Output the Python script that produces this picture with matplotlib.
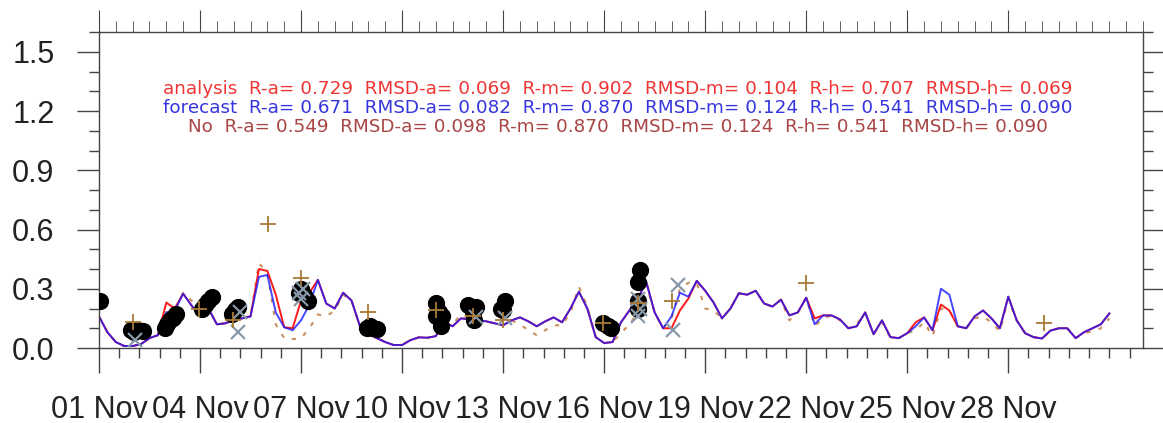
import matplotlib
matplotlib.use("Agg")
import matplotlib.pyplot as plt
from matplotlib.ticker import MultipleLocator, FixedLocator
import numpy as np

plt.rcParams["font.family"] = ["Liberation Sans", "DejaVu Sans"]

# 6-hourly time axis, days since 01 Nov 00Z
days = np.arange(0, 30.01, 0.25)

# forecast (blue)
forecast = [
    0.16, 0.08, 0.03, 0.01,
    0.01, 0.02, 0.05, 0.065,
    0.18, 0.19, 0.275, 0.215,
    0.16, 0.20, 0.12, 0.125,
    0.14, 0.15, 0.16, 0.36,
    0.37, 0.18, 0.105, 0.09,
    0.14, 0.22, 0.345, 0.225,
    0.20, 0.28, 0.24, 0.11,
    0.07, 0.05, 0.03, 0.015,
    0.015, 0.04, 0.054, 0.052,
    0.06, 0.13, 0.11, 0.15,
    0.145, 0.14, 0.135, 0.125,
    0.115, 0.14, 0.155, 0.135,
    0.11, 0.135, 0.155, 0.13,
    0.20, 0.285, 0.20, 0.055,
    0.025, 0.03, 0.13, 0.19,
    0.25, 0.335, 0.18, 0.10,
    0.16, 0.28, 0.26, 0.34,
    0.29, 0.23, 0.15, 0.20,
    0.277, 0.27, 0.29, 0.225,
    0.21, 0.245, 0.165, 0.18,
    0.255, 0.12, 0.165, 0.165,
    0.145, 0.10, 0.11, 0.18,
    0.07, 0.14, 0.055, 0.05,
    0.075, 0.11, 0.155, 0.09,
    0.30, 0.27, 0.11, 0.10,
    0.16, 0.19, 0.15, 0.10,
    0.26, 0.14, 0.075, 0.055,
    0.048, 0.088, 0.10, 0.10,
    0.05, 0.08, 0.10, 0.12,
    0.175,
]

# analysis (red)
analysis = [
    0.16, 0.08, 0.03, 0.01,
    0.01, 0.02, 0.05, 0.065,
    0.23, 0.20, 0.275, 0.215,
    0.16, 0.20, 0.12, 0.125,
    0.14, 0.15, 0.16, 0.40,
    0.39, 0.27, 0.105, 0.10,
    0.24, 0.28, 0.345, 0.225,
    0.20, 0.28, 0.24, 0.11,
    0.07, 0.05, 0.03, 0.015,
    0.015, 0.04, 0.054, 0.052,
    0.06, 0.13, 0.11, 0.15,
    0.145, 0.14, 0.135, 0.125,
    0.115, 0.14, 0.155, 0.135,
    0.11, 0.135, 0.155, 0.13,
    0.20, 0.285, 0.20, 0.055,
    0.025, 0.03, 0.13, 0.19,
    0.25, 0.335, 0.18, 0.10,
    0.10, 0.19, 0.25, 0.34,
    0.29, 0.23, 0.15, 0.20,
    0.277, 0.27, 0.29, 0.225,
    0.21, 0.245, 0.165, 0.18,
    0.255, 0.15, 0.165, 0.165,
    0.145, 0.10, 0.11, 0.18,
    0.07, 0.14, 0.055, 0.05,
    0.075, 0.13, 0.155, 0.09,
    0.22, 0.19, 0.11, 0.10,
    0.16, 0.19, 0.15, 0.10,
    0.26, 0.14, 0.075, 0.055,
    0.048, 0.088, 0.10, 0.10,
    0.05, 0.08, 0.10, 0.12,
    0.175,
]

# no assimilation (dashed)
no_da = [
    0.16, 0.08, 0.03, 0.01,
    0.01, 0.02, 0.05, 0.065,
    0.18, 0.19, 0.28, 0.24,
    0.17, 0.20, 0.12, 0.125,
    0.14, 0.15, 0.16, 0.43,
    0.38, 0.12, 0.05, 0.045,
    0.05, 0.10, 0.17, 0.16,
    0.19, 0.27, 0.24, 0.11,
    0.07, 0.05, 0.03, 0.015,
    0.015, 0.04, 0.054, 0.052,
    0.06, 0.13, 0.12, 0.17,
    0.145, 0.14, 0.135, 0.125,
    0.115, 0.14, 0.12, 0.09,
    0.065, 0.09, 0.115, 0.115,
    0.18, 0.31, 0.21, 0.055,
    0.025, 0.03, 0.075, 0.12,
    0.18, 0.32, 0.18, 0.10,
    0.15, 0.30, 0.33, 0.33,
    0.20, 0.19, 0.15, 0.20,
    0.277, 0.27, 0.29, 0.225,
    0.21, 0.245, 0.14, 0.18,
    0.255, 0.11, 0.15, 0.165,
    0.14, 0.10, 0.12, 0.18,
    0.07, 0.13, 0.055, 0.05,
    0.075, 0.09, 0.13, 0.06,
    0.20, 0.19, 0.11, 0.10,
    0.15, 0.16, 0.13, 0.085,
    0.25, 0.14, 0.075, 0.055,
    0.048, 0.085, 0.10, 0.10,
    0.05, 0.075, 0.085, 0.10,
    0.15,
]

# observations (black dots)
obs_days = [0.03, 0.95, 1.05, 1.15, 1.3, 1.95, 2.02, 2.1, 2.2, 2.3,
            3.05, 3.15, 3.25, 3.35, 3.95, 4.05, 4.12,
            5.95, 6.0, 6.1, 6.2, 7.95, 8.05, 8.15, 8.25,
            10.0, 10.0, 10.1, 10.2, 10.17, 10.96, 11.2, 11.1, 11.15,
            11.95, 12.05, 12.0, 14.97, 15.1, 15.2,
            16.0, 16.0, 16.0, 16.05]
obs_vals = [0.24, 0.09, 0.08, 0.09, 0.085, 0.10, 0.12, 0.14, 0.15, 0.17,
            0.20, 0.22, 0.24, 0.26, 0.17, 0.19, 0.21,
            0.28, 0.30, 0.27, 0.24, 0.10, 0.11, 0.10, 0.095,
            0.23, 0.16, 0.18, 0.16, 0.11, 0.217, 0.21, 0.18, 0.14,
            0.20, 0.24, 0.19, 0.125, 0.11, 0.10,
            0.20, 0.24, 0.335, 0.394]

# second obs set (+)
plus_days = [1.02, 2.97, 3.98, 5.03, 6.0, 8.0, 10.0, 11.1, 12.0, 14.97,
             16.0, 17.0, 21.0, 28.05]
plus_vals = [0.133, 0.20, 0.14, 0.63, 0.353, 0.183, 0.19, 0.16, 0.14, 0.125,
             0.23, 0.24, 0.33, 0.125]

# third obs set (x)
cross_days = [1.08, 4.13, 4.2, 5.95, 6.05, 6.0, 11.2, 12.05,
              16.0, 16.05, 16.0, 17.03, 17.18]
cross_vals = [0.04, 0.083, 0.18, 0.28, 0.30, 0.25, 0.158, 0.15,
              0.25, 0.20, 0.16, 0.09, 0.32]

tick_days = [0, 3, 6, 9, 12, 15, 18, 21, 24, 27]
tick_labels = ["01 Nov", "04 Nov", "07 Nov", "10 Nov", "13 Nov",
               "16 Nov", "19 Nov", "22 Nov", "25 Nov", "28 Nov"]

stat_names = ["analysis", "forecast", "No"]
r_a = ["0.729", "0.671", "0.549"]
rmsd_a = ["0.069", "0.082", "0.098"]
r_m = ["0.902", "0.870", "0.870"]
rmsd_m = ["0.104", "0.124", "0.124"]
r_h = ["0.707", "0.541", "0.541"]
rmsd_h = ["0.069", "0.090", "0.090"]
stat_colors = ["#f03535", "#3535e0", "#a84545"]

fig = plt.figure(figsize=(11.63, 4.23), dpi=100)
ax = fig.add_axes([0.0851, 0.1773, 0.8977, 0.747])

ax.plot(days, no_da, color="#c8905f", lw=1.5, dashes=(2, 4))
ax.plot(days, analysis, color="#ff1a1a", lw=1.4)
ax.plot(days, forecast, color="#1a1aff", lw=1.4, alpha=0.8)
ax.scatter(obs_days, obs_vals, s=130, c="black", zorder=5)
ax.plot(cross_days, cross_vals, ls="none", marker="x", ms=10, mew=1.6,
        color="#8898a8", zorder=6)
ax.plot(plus_days, plus_vals, ls="none", marker="+", ms=11, mew=1.3,
        color="#a87a35", zorder=7)

ax.set_xlim(0, 31)
ax.set_ylim(0, 1.6)
ax.xaxis.set_major_locator(FixedLocator(tick_days))
ax.set_xticklabels(tick_labels)
ax.xaxis.set_minor_locator(MultipleLocator(0.6))
ax.yaxis.set_minor_locator(MultipleLocator(0.1))
ax.set_yticks([0, 0.3, 0.6, 0.9, 1.2, 1.5])
ax.set_yticklabels(["0.0", "0.3", "0.6", "0.9", "1.2", "1.5"])

ax.tick_params(which="both", direction="out", right=True, color="#444444",
               width=1.0, labelsize=22, labelcolor="#222222")
ax.tick_params(which="major", length=16, pad=16)
ax.tick_params(which="minor", length=7)
ax.tick_params(axis="x", which="major", length=18)

top = ax.secondary_xaxis("top")
top.xaxis.set_major_locator(FixedLocator(tick_days))
top.xaxis.set_minor_locator(MultipleLocator(0.5))
top.tick_params(which="both", direction="out", color="#444444", labeltop=False)
top.tick_params(which="major", length=16)
top.tick_params(which="minor", length=8)
top.spines["top"].set_visible(False)

for s in ax.spines.values():
    s.set_color("#444444")
    s.set_linewidth(1.0)

# stats block, wide font to mimic the stretched original
for i, name in enumerate(stat_names):
    txt = (f"{name}  R-a= {r_a[i]}  RMSD-a= {rmsd_a[i]}  R-m= {r_m[i]}  "
           f"RMSD-m= {rmsd_m[i]}  R-h= {r_h[i]}  RMSD-h= {rmsd_h[i]}")
    fig.text(0.531, 1 - (94.5 + 18.5 * i) / 423, txt, color=stat_colors[i],
             fontsize=13.2, family="DejaVu Sans", ha="center", va="baseline")

fig.savefig("out.png", dpi=100)
